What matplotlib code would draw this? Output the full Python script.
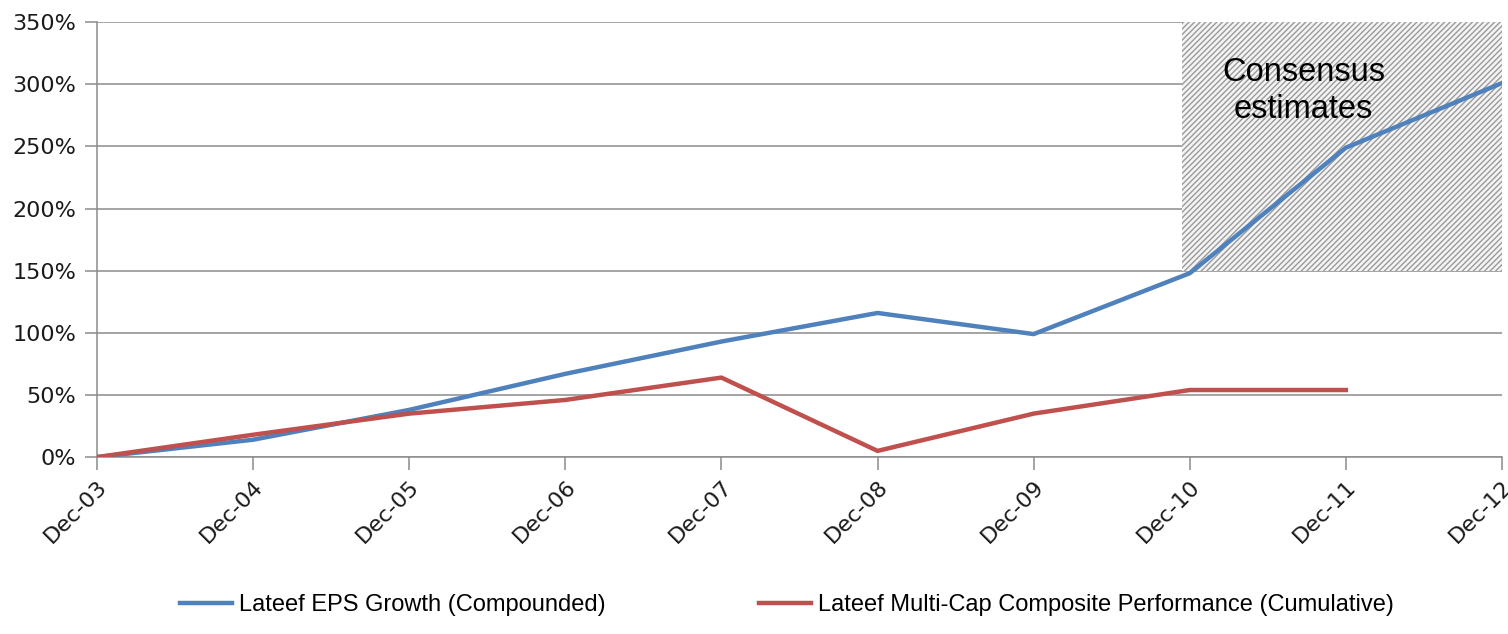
import matplotlib
matplotlib.use("Agg")
import matplotlib.pyplot as plt
from matplotlib.patches import Rectangle
from matplotlib.ticker import FuncFormatter
import numpy as np

# Year-end labels and cumulative growth figures (%)
periods = ["Dec-03", "Dec-04", "Dec-05", "Dec-06", "Dec-07",
           "Dec-08", "Dec-09", "Dec-10", "Dec-11", "Dec-12"]
eps_growth = [0, 14, 38, 67, 93, 116, 99, 148, 249, 301]
composite_perf = [0, 18, 35, 46, 64, 5, 35, 54, 54]

# shaded block marking the estimate years
estimate_start = 6.95
estimate_end = 9
estimate_low = 150
estimate_high = 350

blue = "#4F81BD"
red = "#C0504D"
grid_gray = "#8c8c8c"

fig = plt.figure(figsize=(15.08, 6.34), dpi=100)
ax = fig.add_axes([0.0643, 0.279, 0.9317, 0.686])

x = np.arange(len(periods))

ax.add_patch(Rectangle((estimate_start, estimate_low),
                       estimate_end - estimate_start,
                       estimate_high - estimate_low,
                       facecolor="#f4f4f4", edgecolor="#9a9a9a",
                       hatch="//////", linewidth=0, zorder=1))

ax.plot(x, eps_growth, color=blue, lw=3.2, zorder=3,
        label="Lateef EPS Growth (Compounded)")
ax.plot(x[:len(composite_perf)], composite_perf, color=red, lw=3.2, zorder=3,
        label="Lateef Multi-Cap Composite Performance (Cumulative)")

ax.text(7.73, 295, "Consensus\nestimates", ha="center", va="center",
        fontsize=23.5, family="Liberation Sans", linespacing=1.25, zorder=4)

ax.set_xlim(0, 9)
ax.set_ylim(0, 350)
ax.set_yticks(np.arange(0, 351, 50))
ax.yaxis.set_major_formatter(FuncFormatter(lambda v, _: f"{v:.0f}%"))
ax.set_xticks(x)
ax.set_xticklabels(periods, rotation=45, ha="right", rotation_mode="anchor")

ax.grid(axis="y", color=grid_gray, lw=1.1, zorder=0)
ax.set_axisbelow(True)
for side in ("top", "right"):
    ax.spines[side].set_visible(False)
for side in ("left", "bottom"):
    ax.spines[side].set_color(grid_gray)
    ax.spines[side].set_linewidth(1.1)
ax.tick_params(axis="both", colors=grid_gray, length=9, width=1.1, labelsize=16)
ax.tick_params(axis="x", labelcolor="#1a1a1a", pad=5)
ax.tick_params(axis="y", labelcolor="#1a1a1a", pad=6)
for lab in ax.get_xticklabels() + ax.get_yticklabels():
    lab.set_family(["DejaVu Sans"])

leg = fig.legend(loc="lower center", bbox_to_anchor=(0.522, -0.005), ncol=2,
                 frameon=False, handlelength=2.2, handletextpad=0.3,
                 columnspacing=6.5,
                 prop={"family": ["Liberation Sans"], "size": 17})

fig.savefig("out.png", dpi=100)
